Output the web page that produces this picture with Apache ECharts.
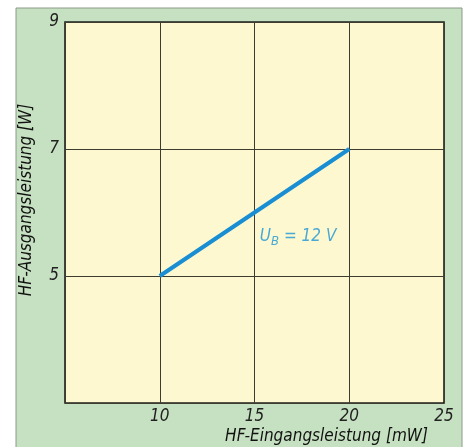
<!DOCTYPE html>
<html><head><meta charset="utf-8">
<script src="https://cdn.jsdelivr.net/npm/echarts@6/dist/echarts.min.js"></script>
<style>html,body{margin:0;padding:0;background:#fff}#c{width:469px;height:447px}</style>
</head><body><div id="c"></div>
<script>
const xInput = [10, 15, 20];          // HF-Eingangsleistung [mW]
const yOutput = [5, 6, 7];            // HF-Ausgangsleistung [W]
const xTicks = [5, 10, 15, 20, 25];
const yTicks = [3, 5, 7, 9];
const seriesLabel = 'U_B = 12 V';
const labelPos = [17.3, 5.62];

const FONT = "'Liberation Sans Narrow', 'DejaVu Sans Condensed', sans-serif";
const chart = echarts.init(document.getElementById('c'), null, {renderer: 'canvas'});
chart.setOption({
  animation: false,
  backgroundColor: '#ffffff',
  graphic: [{
    type: 'rect', z: -10, silent: true,
    shape: {x: 16, y: 8, width: 446, height: 445},
    style: {fill: '#c6e1c1', stroke: '#8a9a88', lineWidth: 1}
  }],
  grid: {left: 65, top: 22, right: 25, bottom: 44, show: true, containLabel: false,
    outerBoundsMode: 'none',
    backgroundColor: '#fef8d1', borderColor: '#1e1e1a', borderWidth: 1.6},
  xAxis: {
    type: 'value', min: xTicks[0], max: xTicks[xTicks.length-1], interval: 5,
    axisLine: {show: false}, axisTick: {show: false},
    splitLine: {lineStyle: {color: '#3c3c30', width: 1}},
    axisLabel: {showMinLabel: false, margin: 5, color: '#222', fontSize: 17,
      fontStyle: 'italic', fontFamily: FONT},
    name: 'HF-Eingangsleistung [mW]', nameLocation: 'middle', nameGap: 25,
    nameMoveOverlap: false,
    nameTextStyle: {color: '#111', fontSize: 17, fontStyle: 'italic', fontFamily: FONT,
      verticalAlign: 'top', padding: [0, 0, 0, 144]}
  },
  yAxis: {
    type: 'value', min: yTicks[0], max: yTicks[yTicks.length-1], interval: 2,
    axisLine: {show: false}, axisTick: {show: false},
    splitLine: {lineStyle: {color: '#3c3c30', width: 1}},
    axisLabel: {showMinLabel: false, margin: 6, color: '#222', fontSize: 17,
      fontStyle: 'italic', fontFamily: FONT},
    name: 'HF-Ausgangsleistung [W]', nameLocation: 'middle', nameGap: 30, nameRotate: 90,
    nameMoveOverlap: false,
    nameTextStyle: {color: '#111', fontSize: 17, fontStyle: 'italic', fontFamily: FONT,
      padding: [0, 0, 0, 25]}
  },
  series: [{
    type: 'line', data: xInput.map((x, i) => [x, yOutput[i]]),
    showSymbol: false, symbol: 'none',
    lineStyle: {color: '#1a8ed2', width: 4}
  }, {
    type: 'scatter', data: [labelPos], symbolSize: 0, silent: true,
    label: {show: true, position: 'inside',
      formatter: () => { const p = seriesLabel.split(' = ');
        return '{u|' + p[0].split('_')[0] + '}{s|' + p[0].split('_')[1] + '}{u| = ' + p[1] + '}'; },
      rich: {
        u: {color: '#1a95d6', fontSize: 17, fontStyle: 'italic', fontFamily: FONT},
        s: {color: '#1a95d6', fontSize: 13, fontStyle: 'italic', fontFamily: FONT, padding: [10, 0, 0, 0]}
      }}
  }]
});
</script></body></html>
